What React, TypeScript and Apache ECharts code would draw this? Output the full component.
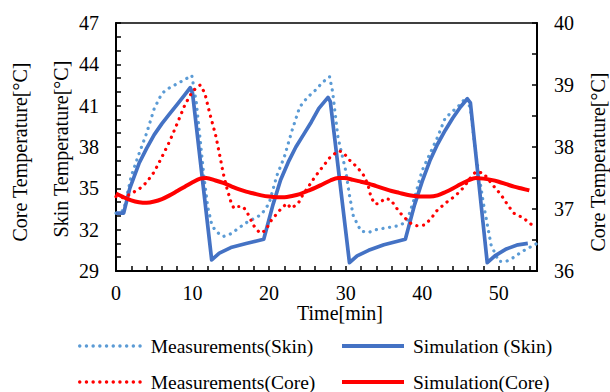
import React, { useEffect, useRef } from 'react';
import * as echarts from 'echarts';

const FONT = "'Liberation Serif', 'Times New Roman', serif";

// Simulation (Skin) – left axis
const simSkinTime = [0, 1, 1.8, 3, 4, 5, 6, 7, 8, 9, 9.7, 10.0, 12.5, 13.5, 15, 17, 19.3, 20.5, 21.5, 22.5, 23.5, 24.5, 25.5, 26.5, 27.7, 28.0, 30.5, 31.5, 33, 35, 37.8, 39, 40, 41, 42, 43, 44, 45, 45.9, 46.3, 48.5, 49.5, 51, 52.5, 53.8];
const simSkin = [33.2, 33.2, 35.0, 36.8, 37.9, 38.9, 39.7, 40.4, 41.1, 41.8, 42.3, 41.9, 29.8, 30.3, 30.7, 31.0, 31.3, 33.8, 35.6, 36.9, 38.0, 38.9, 39.8, 40.8, 41.6, 41.3, 29.6, 30.1, 30.5, 30.9, 31.3, 33.8, 35.5, 37.0, 38.2, 39.2, 40.1, 40.9, 41.5, 41.2, 29.6, 30.1, 30.6, 30.9, 31.0];

// Measurements (Skin) – left axis
const measSkinTime = [0, 1, 2, 3, 4, 5, 6, 7, 8, 9, 9.9, 10.5, 11, 11.5, 12, 12.5, 13, 14, 15, 16, 17, 18, 19, 20, 21, 22, 23, 24, 25, 26, 27, 27.9, 28.3, 29, 30, 30.5, 31, 32, 33, 34, 35, 36, 37, 38, 39, 40, 41, 42, 43, 44, 45, 45.7, 46.3, 47, 48, 49, 50, 51, 52, 53, 54, 55];
const measSkin = [33.2, 33.4, 35.9, 37.5, 39.0, 40.8, 41.9, 42.3, 42.6, 42.9, 43.2, 41.2, 38.5, 35.8, 33.6, 32.4, 31.9, 31.5, 31.7, 32.1, 32.5, 32.8, 33.1, 33.9, 35.9, 37.3, 39.2, 40.9, 41.6, 42.1, 42.7, 43.1, 42.0, 38.7, 36.3, 34.5, 33.0, 31.9, 31.8, 32.0, 32.1, 32.2, 32.3, 32.6, 34.3, 36.3, 37.5, 38.7, 40.1, 40.6, 41.1, 41.6, 40.8, 37.5, 33.9, 30.9, 29.7, 29.7, 30.0, 30.4, 30.7, 31.0];

// Measurements (Core) – right axis
const measCoreTime = [0, 1, 2, 3, 4, 5, 6, 7, 8, 9, 10, 11, 11.6, 12.25, 13, 13.5, 14, 14.5, 15, 15.4, 16, 16.6, 17.2, 18, 18.8, 19.5, 20.3, 21.4, 22.3, 22.9, 23.8, 24.4, 25.3, 26, 27, 28, 29.1, 29.7, 30.5, 31.2, 31.8, 32.5, 33, 33.3, 33.8, 34.4, 35.1, 35.9, 36.5, 37.1, 37.8, 38.5, 39.3, 40.3, 41.2, 41.8, 43.3, 44.2, 44.9, 45.5, 46.4, 47, 48, 49.2, 50.3, 51.2, 52, 53.3, 54, 54.9];
const measCore = [37.2, 37.18, 37.25, 37.32, 37.43, 37.6, 37.84, 38.09, 38.38, 38.68, 38.9, 39.0, 38.87, 38.54, 38.2, 37.9, 37.58, 37.33, 37.12, 37.01, 37.04, 37.04, 36.93, 36.73, 36.61, 36.65, 36.82, 36.98, 37.09, 37.01, 37.09, 37.23, 37.39, 37.52, 37.68, 37.84, 37.94, 37.91, 37.79, 37.71, 37.63, 37.52, 37.35, 37.2, 37.08, 37.09, 37.17, 37.15, 37.04, 36.94, 36.85, 36.77, 36.73, 36.74, 36.85, 36.96, 37.12, 37.2, 37.28, 37.36, 37.52, 37.6, 37.58, 37.39, 37.23, 37.06, 36.93, 36.85, 36.77, 36.71];

// Simulation (Core) – right axis
const simCoreTime = [0, 1, 2, 3, 4, 5, 6, 7, 8, 9, 10, 11, 11.8, 13, 14, 15, 16, 17, 18, 19, 20, 21, 22, 23, 24, 25, 26, 27, 28, 29, 29.8, 31, 32, 33, 34, 35, 36, 37, 38, 39, 40, 41, 42, 43, 44, 45, 46, 47, 48, 49, 50, 51, 52, 53, 54];
const simCore = [37.25, 37.19, 37.14, 37.11, 37.1, 37.12, 37.16, 37.22, 37.29, 37.36, 37.43, 37.49, 37.5, 37.46, 37.42, 37.37, 37.32, 37.28, 37.25, 37.22, 37.2, 37.19, 37.19, 37.21, 37.24, 37.29, 37.34, 37.4, 37.46, 37.5, 37.5, 37.47, 37.44, 37.41, 37.37, 37.33, 37.29, 37.26, 37.23, 37.21, 37.2, 37.2, 37.22, 37.27, 37.33, 37.4, 37.46, 37.5, 37.49, 37.47, 37.44, 37.4, 37.36, 37.33, 37.3];

const xLabels = [0, 10, 20, 30, 40, 50];
const leftLabels = [29, 32, 35, 38, 41, 44, 47];
const rightLabels = [36, 37, 38, 39, 40];

const names = ['Measurements(Skin)', 'Simulation (Skin)', 'Measurements(Core)', 'Simulation(Core)'];

const zip = (t: number[], v: number[]) => t.map((x, i) => [x, v[i]]);

export default function App() {
  const ref = useRef<HTMLDivElement>(null);
  useEffect(() => {
    const chart = echarts.init(ref.current!, null, { renderer: 'svg' });
    const axisText = { color: '#000', fontSize: 20, fontFamily: FONT };
    const dotted = [0.1, 6.6];
    const legendBase = (name: string, left: number, top: number, lineWidth: number) => ({
      data: [name],
      left,
      top,
      padding: 0,
      itemWidth: 62,
      itemHeight: 12,
      selectedMode: false,
      itemStyle: { opacity: 0 },
      lineStyle: { width: lineWidth },
      textStyle: { color: '#000', fontSize: 19.5, fontFamily: FONT, padding: [0, 0, 0, 4] },
    });
    const titleStyle = { fill: '#000', font: `20px ${FONT}`, textAlign: 'center', textVerticalAlign: 'middle' };
    const option: any = {
      animation: false,
      textStyle: { fontFamily: FONT },
      grid: { left: 116, top: 23, width: 421, height: 248, show: true, borderColor: '#000', borderWidth: 1.5, containLabel: false },
      legend: [
        legendBase(names[0], 78, 336, 3.4),
        legendBase(names[1], 340, 336, 4),
        legendBase(names[2], 78, 372, 3.4),
        legendBase(names[3], 340, 372, 4),
      ],
      xAxis: {
        type: 'value',
        min: 0,
        max: 55,
        interval: 2,
        axisLine: { show: true, lineStyle: { color: '#000', width: 2 } },
        axisTick: { show: true, inside: true, length: 5, lineStyle: { color: '#000', width: 1.5 } },
        splitLine: { show: false },
        axisLabel: {
          ...axisText,
          margin: 12,
          formatter: (v: number) => (xLabels.includes(v) ? String(v) : ''),
        },
      },
      yAxis: [
        {
          type: 'value',
          min: 29,
          max: 47,
          interval: 1,
          position: 'left',
          axisLine: { show: true, lineStyle: { color: '#000', width: 2 } },
          axisTick: { show: true, inside: true, length: 5, lineStyle: { color: '#000', width: 1.5 } },
          splitLine: { show: false },
          axisLabel: {
            ...axisText,
            margin: 17,
            formatter: (v: number) => (leftLabels.includes(v) ? String(v) : ''),
          },
        },
        {
          type: 'value',
          min: 36,
          max: 40,
          interval: 0.5,
          position: 'right',
          axisLine: { show: true, lineStyle: { color: '#000', width: 2 } },
          axisTick: { show: true, inside: true, length: 5, lineStyle: { color: '#000', width: 1.5 } },
          splitLine: { show: false },
          axisLabel: {
            ...axisText,
            margin: 17,
            formatter: (v: number) => (rightLabels.includes(v) ? String(v) : ''),
          },
        },
      ],
      graphic: [
        { type: 'text', x: 20, y: 152, rotation: Math.PI / 2, style: { text: 'Core Temperature[°C]', ...titleStyle } },
        { type: 'text', x: 61, y: 149, rotation: Math.PI / 2, style: { text: 'Skin Temperature[°C]', ...titleStyle } },
        { type: 'text', x: 598, y: 162, rotation: Math.PI / 2, style: { text: 'Core Temperature[°C]', ...titleStyle } },
        { type: 'text', x: 340, y: 313, style: { text: 'Time[min]', ...titleStyle } },
      ],
      series: [
        {
          name: names[0], type: 'line', xAxisIndex: 0, yAxisIndex: 0, symbol: 'none',
          data: zip(measSkinTime, measSkin),
          itemStyle: { color: '#5B9BD5' },
          lineStyle: { color: '#5B9BD5', width: 3.2, type: dotted, cap: 'round' },
        },
        {
          name: names[1], type: 'line', xAxisIndex: 0, yAxisIndex: 0, symbol: 'none',
          data: zip(simSkinTime, simSkin),
          itemStyle: { color: '#4472C4' },
          lineStyle: { color: '#4472C4', width: 3.7, join: 'round' },
        },
        {
          name: names[2], type: 'line', xAxisIndex: 0, yAxisIndex: 1, symbol: 'none',
          data: zip(measCoreTime, measCore),
          itemStyle: { color: '#FF0000' },
          lineStyle: { color: '#FF0000', width: 3.2, type: dotted, cap: 'round' },
        },
        {
          name: names[3], type: 'line', xAxisIndex: 0, yAxisIndex: 1, symbol: 'none', smooth: 0.3,
          data: zip(simCoreTime, simCore),
          itemStyle: { color: '#FF0000' },
          lineStyle: { color: '#FF0000', width: 4 },
        },
      ],
    };
    chart.setOption(option);
    return () => chart.dispose();
  }, []);
  return <div ref={ref} style={{ position: 'absolute', left: 0, top: 0, width: 610, height: 392 }} />;
}
